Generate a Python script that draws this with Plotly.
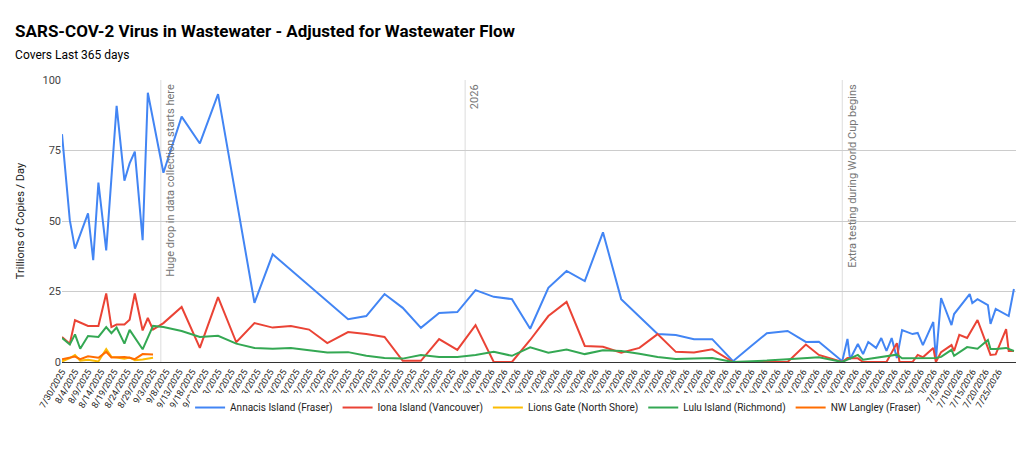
import pandas as pd
import plotly.graph_objects as go

START = pd.Timestamp("2025-07-30")

# days since 7/30/2025 and values (trillions of copies / day)
annacis_days = [0, 3, 5, 10, 12, 14, 17, 21, 24, 26, 28, 31, 33, 39, 46, 53, 60, 74, 81,
                110, 117, 124, 131, 138, 145, 152, 159, 166, 173, 180, 187, 194, 201, 208,
                215, 222, 229, 236, 243, 250, 258, 265, 271, 279, 286, 291, 300, 302, 303,
                306, 308, 310, 313, 315, 317, 319, 321, 323, 327, 329, 331, 335, 336, 338,
                342, 343, 349, 350, 352, 356, 357, 359, 364, 366]
annacis_vals = [80.8, 50.3, 40.2, 52.7, 36.1, 63.6, 39.6, 90.8, 64.3, 70.4, 74.6, 43.2, 95.5,
                67.1, 87, 77.5, 95, 21, 38.2,
                15.2, 16.3, 24.1, 19.2, 12.1, 17.4, 17.7, 25.5, 23.1, 22.3, 11.8, 26.3, 32.3,
                28.7, 46, 22.3, 16, 9.9, 9.6, 8.1, 8.1, 0.3, 5.7, 10.2, 11.0, 7.1, 7.2, 0.3,
                8.2, 1.0, 6.4, 2.8, 7.1, 5.0, 8.5, 3.9, 8.5, 1.4, 11.3, 9.9, 10.3, 6.0, 14.2,
                0.7, 22.7, 13.1, 17, 24.1, 20.9, 22.3, 20.2, 13.5, 18.8, 16.3, 25.9]

iona_days = [0, 3, 5, 10, 14, 17, 19, 21, 24, 26, 28, 31, 33, 35, 39, 46, 53, 60, 67, 74,
             81, 88, 95, 102, 110, 117, 124, 131, 138, 145, 152, 159, 166, 173, 180, 187,
             194, 201, 208, 215, 222, 229, 236, 243, 250, 258, 265, 271, 279, 286, 291,
             300, 302, 306, 308, 317, 321, 322, 327, 329, 331, 335, 336, 338, 342, 343,
             345, 348, 352, 357, 359, 363, 364, 366]
iona_vals = [8.9, 6.5, 14.8, 12.8, 12.8, 24.3, 12.4, 13.3, 13.3, 15, 24.3, 11.2, 15.6, 11.5,
             13.8, 19.5, 5.0, 23, 7, 13.8, 12.2, 12.8, 11.5, 6.7, 10.6, 9.9, 8.9, 0.4, 0.4,
             8.1, 4.3, 13.1, 0, 0, 7.8, 16.3, 21.3, 5.7, 5.4, 3.3, 5.0, 9.9, 3.6, 3.4, 4.5,
             0, 0, 0, 0, 6.2, 2.5, 0, 1.4, 1.3, 0, 0, 6.7, 0, 0, 2.5, 1.7, 5.0, 0, 3.5, 6.0,
             3.9, 9.6, 8.5, 14.9, 2.5, 2.7, 11.7, 3.9, 3.9]

lions_days = [0, 3, 5, 7, 10, 14, 17, 19, 21, 24, 26, 28, 31, 35]
lions_vals = [0.2, 1.4, 2.5, 0.5, 0.8, 0.2, 4.6, 1.8, 1.6, 1.2, 1.6, 0.6, 0.9, 1.5]

lulu_days = [0, 3, 5, 7, 10, 14, 17, 19, 21, 24, 26, 31, 35, 39, 46, 53, 60, 67, 74, 81, 88,
             95, 102, 110, 117, 124, 131, 138, 145, 152, 159, 166, 173, 180, 187, 194, 201,
             208, 215, 222, 229, 236, 243, 250, 258, 265, 271, 279, 286, 291, 300, 306, 308,
             321, 323, 336, 338, 342, 343, 348, 352, 356, 357, 359, 363, 366]
lulu_vals = [8.5, 6.2, 9.8, 4.7, 9.2, 8.9, 12.4, 10.2, 12.2, 6.5, 11.4, 4.5, 12.8, 12.4, 11,
             8.9, 9.3, 6.5, 5.0, 4.7, 5.0, 4.2, 3.4, 3.5, 2.2, 1.4, 1.2, 2.5, 1.8, 1.8, 2.5,
             3.6, 2.2, 5.2, 3.3, 4.4, 2.8, 4.2, 3.9, 2.9, 1.8, 1.1, 1.2, 1.4, 0, 0.2, 0.5,
             1.0, 1.5, 1.7, 0, 2.5, 0.8, 2.6, 1.3, 1.4, 1.8, 4.3, 2.2, 5.3, 4.7, 7.8, 4.6,
             4.6, 5.0, 3.9]

langley_days = [0, 3, 5, 7, 10, 14, 17, 19, 21, 24, 26, 28, 31, 35]
langley_vals = [1.0, 1.5, 1.9, 1.0, 2.0, 1.5, 3.6, 1.6, 1.6, 1.8, 1.5, 1.0, 2.8, 2.7]

series = [
    ("Annacis Island (Fraser)", annacis_days, annacis_vals, "#4285F4"),
    ("Iona Island (Vancouver)", iona_days, iona_vals, "#EA4335"),
    ("Lions Gate (North Shore)", lions_days, lions_vals, "#FBBC04"),
    ("Lulu Island (Richmond)", lulu_days, lulu_vals, "#34A853"),
    ("NW Langley (Fraser)", langley_days, langley_vals, "#FF6D01"),
]

events = [(38, "Huge drop in data collection starts here"),
          (155, "2026"),
          (300, "Extra testing during World Cup begins")]


def to_dates(days):
    return [START + pd.Timedelta(days=d) for d in days]


fig = go.Figure()
for name, d, v, c in series:
    fig.add_trace(go.Scatter(x=to_dates(d), y=v, name=name, mode="lines",
                             line=dict(color=c, width=2), cliponaxis=False))

for d, txt in events:
    x = START + pd.Timedelta(days=d)
    fig.add_shape(type="line", x0=x, x1=x, y0=0, y1=1, yref="paper",
                  line=dict(color="#dddddd", width=1), layer="below")
    fig.add_annotation(x=x, y=1, yref="paper", text=txt, textangle=-90, showarrow=False,
                       xanchor="left", yanchor="top", xshift=1, yshift=-2,
                       font=dict(size=11, color="#757575"))

tick_days = list(range(0, 361, 5))
tick_dates = to_dates(tick_days)
tick_text = [f"{t.month}/{t.day}/{t.year}" for t in tick_dates]

# the page adds an 8px body margin, so the figure is trimmed to match
fig.update_layout(
    width=1016, height=448,
    margin=dict(l=54, r=8, t=72, b=94),
    paper_bgcolor="white", plot_bgcolor="white",
    font=dict(family="Roboto, Arial, sans-serif", color="#222"),
    title=dict(text="<b>SARS-COV-2 Virus in Wastewater - Adjusted for Wastewater Flow</b>"
                    "<br><span style='font-size:12px'>Covers Last 365 days</span>",
               x=0.007, xanchor="left", y=0.935, yanchor="top", font=dict(size=17, color="#000")),
    legend=dict(orientation="h", x=0.52, xanchor="center", y=-0.11, yanchor="top",
                font=dict(size=10, color="#222")),
    showlegend=True,
)
fig.update_xaxes(range=[START, START + pd.Timedelta(days=366.8)], automargin=False,
                 tickvals=tick_dates, ticktext=tick_text, tickangle=-60,
                 tickfont=dict(size=9, color="#222"), showgrid=False,
                 showline=True, linecolor="#333", linewidth=1, ticks="")
fig.update_yaxes(range=[0, 100], tickvals=[0, 25, 50, 75, 100], gridcolor="#cccccc",
                 zeroline=False, automargin=False, tickfont=dict(size=11, color="#444"),
                 title=dict(text="Trillions of Copies / Day", font=dict(size=11, color="#222")))

fig.write_html("out.html")
